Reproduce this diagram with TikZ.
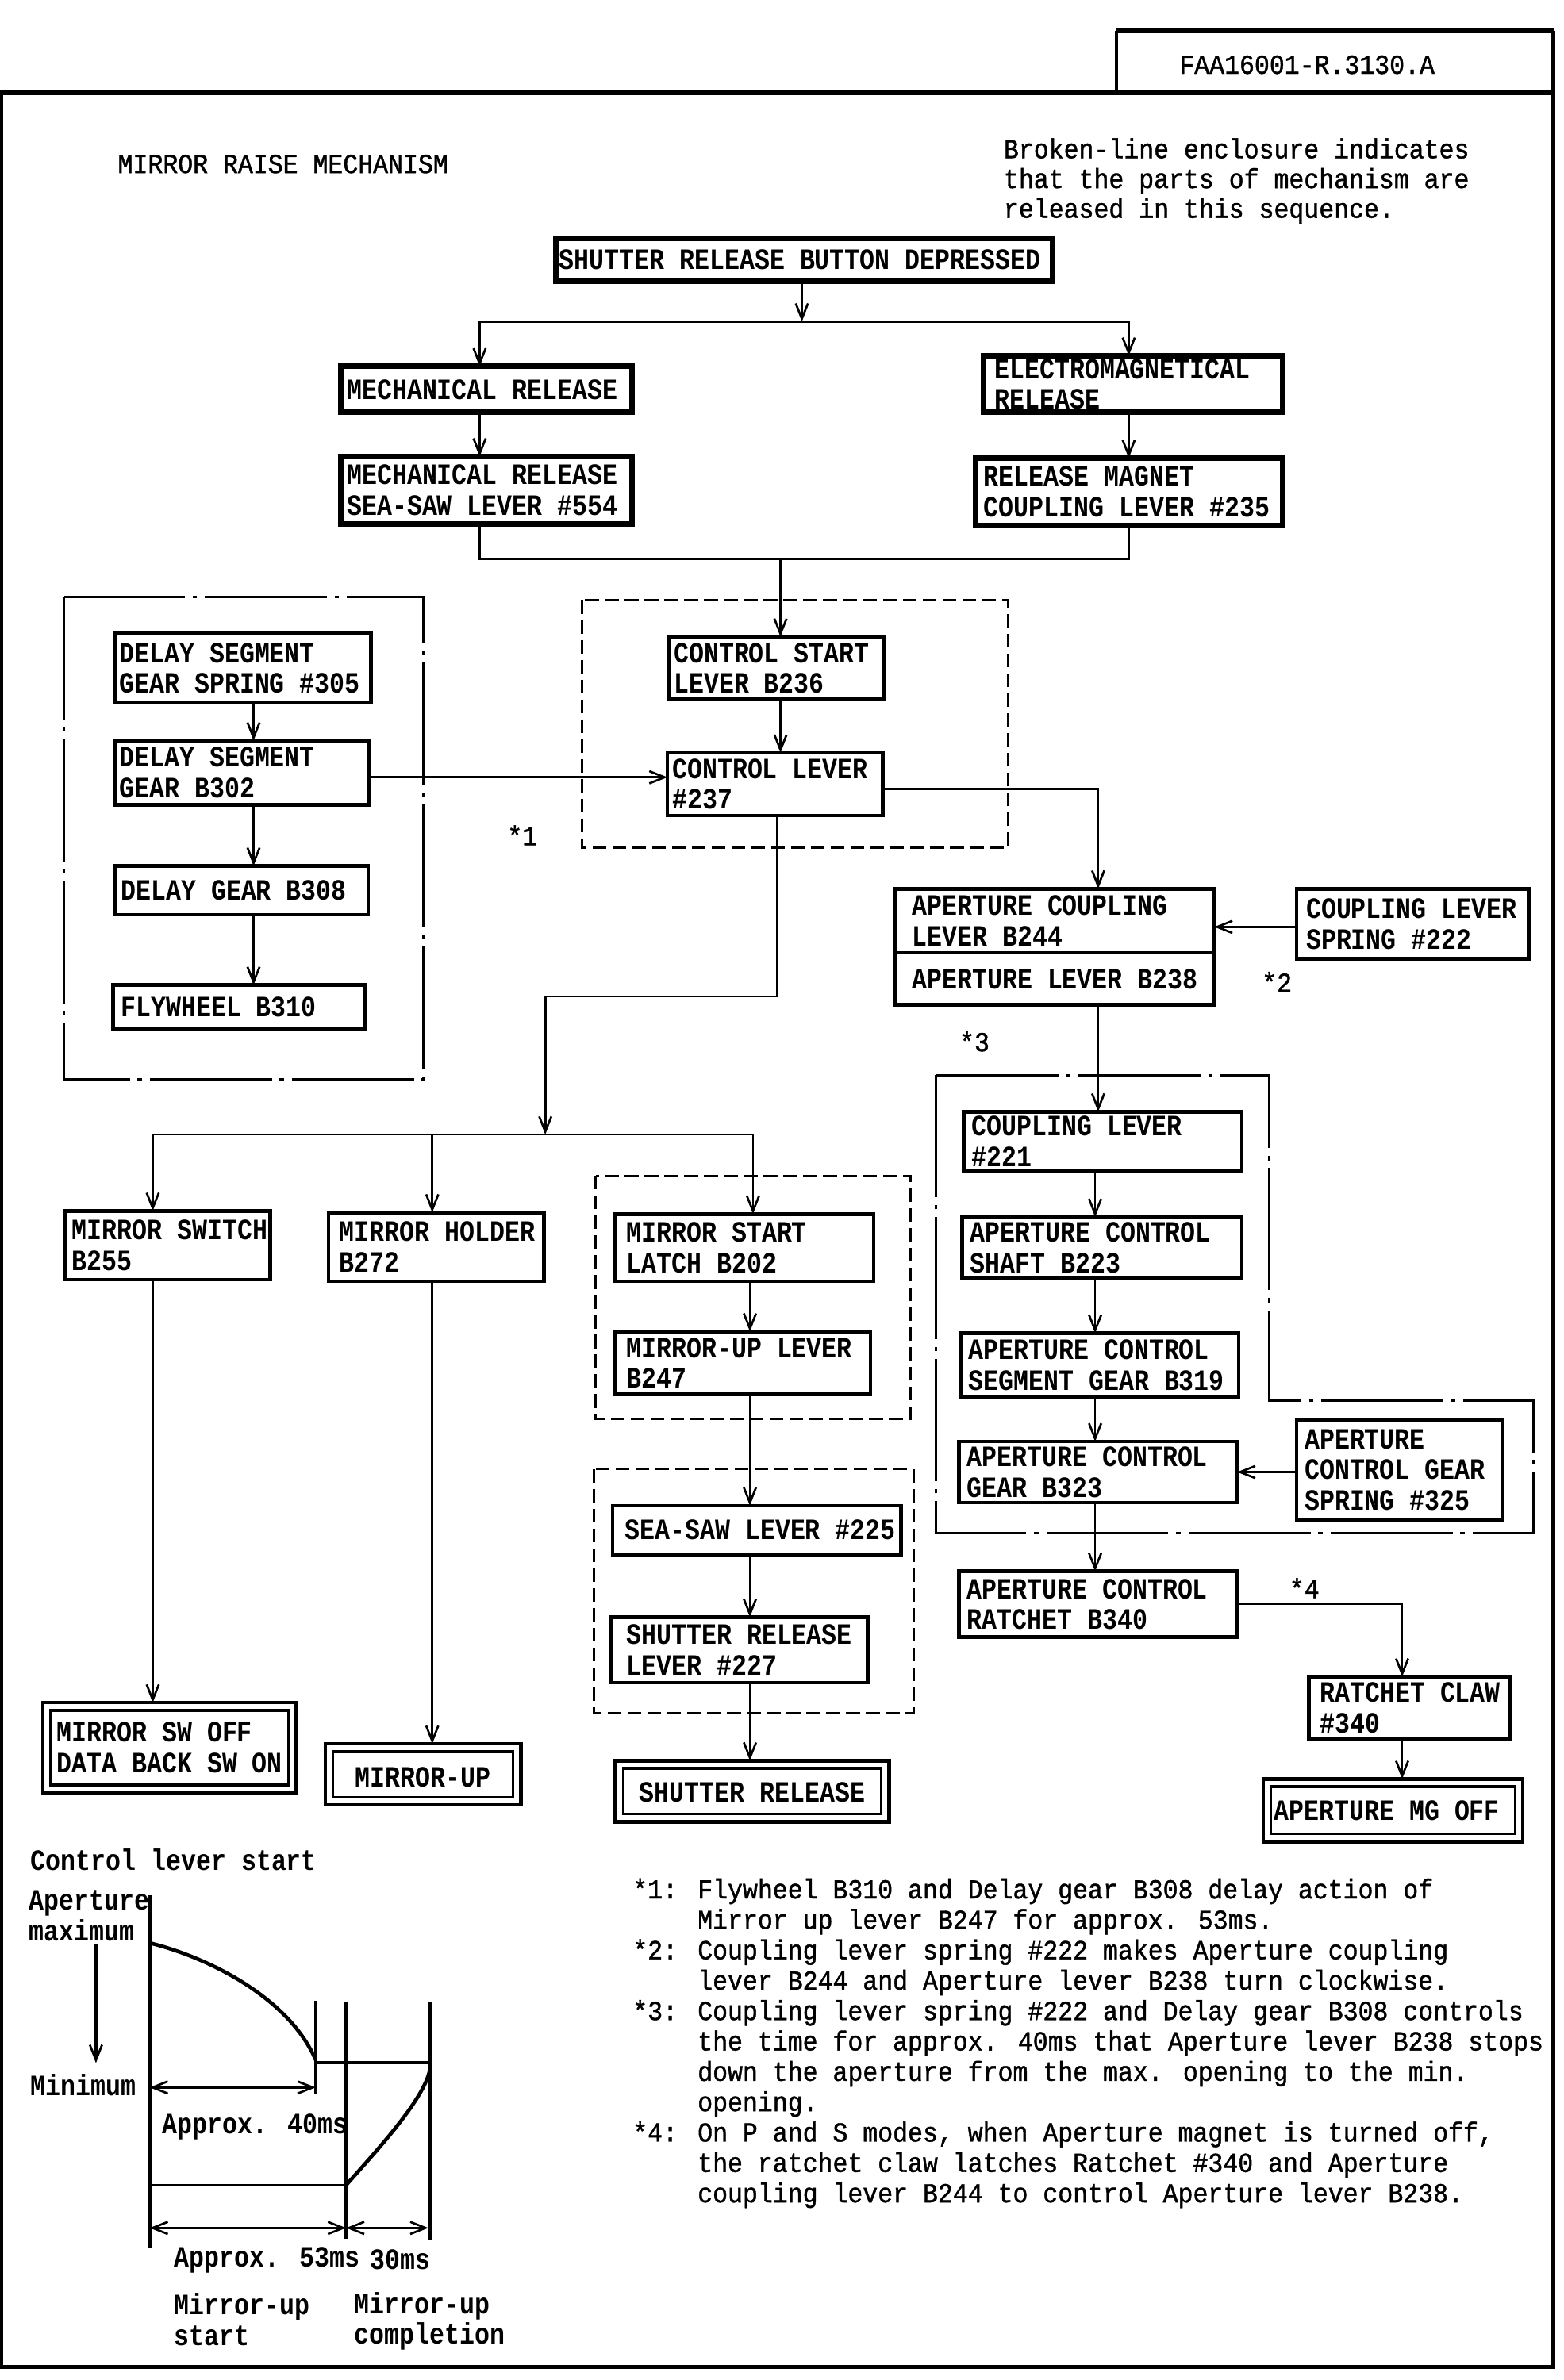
\documentclass[tikz,border=0pt]{standalone}
\usepackage{fontspec}
\setmainfont{Liberation Mono}[FakeStretch=0.85]
\newfontfamily\notefam{Liberation Mono}[FakeStretch=0.91,FakeBold=1.2]
\usetikzlibrary{arrows.meta,calc}
\newcommand\bxf{\bfseries\fontsize{19.3}{20}\selectfont}
\newcommand\ntf{\notefam\fontsize{18}{19.9}\selectfont}
\tikzset{
  conn/.style={line width=1.4pt},
  arr/.style={conn,-{Straight Barb[length=10pt,width=8pt,line width=1.4pt]}},
  darr/.style={conn,{Straight Barb[length=10pt,width=8pt,line width=1.4pt]}-{Straight Barb[length=10pt,width=8pt,line width=1.4pt]}},
  box/.style={draw,line width=2.4pt,inner sep=0pt,outer sep=0pt},
  heavy/.style={box,line width=3.6pt},
  dashbox/.style={line width=1.6pt,dash pattern=on 9pt off 4pt},
  dashdot/.style={line width=1.6pt,dash pattern=on 80pt off 5pt on 3pt off 5pt},
  lbl/.style={anchor=west,align=left,inner sep=0pt,font=\bxf},
  plain/.style={anchor=west,align=left,inner sep=0pt,font=\ntf},
  graphline/.style={line width=2pt},
}
% \bx[style]{name}{x1}{y1}{x2}{y2}
\newcommand\bx[6][box]{%
  \pgfmathsetmacro\bw{#5-#3}\pgfmathsetmacro\bh{#6-#4}%
  \node[#1,anchor=north west,minimum width=\bw pt,minimum height=\bh pt] (#2) at (#3,#4) {};}
% \bt[pad]{name}{text}
\newcommand\bt[3][4]{\node[lbl] (#2t) at ([xshift=#1pt]#2.west) {#3};}
% double box inner
\newcommand\dbl[1]{\draw[line width=1.8pt] ([shift={(5pt,-5pt)}]#1.north west) rectangle ([shift={(-5pt,5pt)}]#1.south east);}
\begin{document}
\begin{tikzpicture}[x=1pt,y=-1pt]
\useasboundingbox (0,0) rectangle (1024,1558.6);
\fill[white] (0,0) rectangle (1024,1558.6);

% frame
\draw[line width=2.5pt] (1,60.5) rectangle (1017,1550);
\draw[line width=4pt] (1,60.5) -- (1017,60.5);
\draw[line width=2.5pt] (731,60.5) -- (731,20);
\draw[line width=4pt] (731,20) -- (1017,20);
\draw[line width=2.5pt] (1017,20) -- (1017,60.5);
\node[plain] (faa) at (772,42.4) {FAA16001-R.3130.A};

\node[plain] (title) at (77,107.4) {MIRROR RAISE MECHANISM};
\node[plain,font=\notefam\fontsize{18}{19.5}\selectfont] (legend) at (657,118.5) {Broken-line enclosure indicates\\that the parts of mechanism are\\released in this sequence.};

% enclosures
\draw[dashbox] (381,393) rectangle (660,555);
\draw[dashbox] (390,770) rectangle (596,929);
\draw[dashbox] (389,962) rectangle (598,1122);
\draw[dashdot] (42,391) rectangle (277,707);
\draw[dashdot] (613,704) -- (831,704) -- (831,917) -- (1004,917) -- (1004,1004) -- (613,1004) -- cycle;

% top boxes
\bx[heavy]{srb}{364}{156}{689}{184} \bt[2]{srb}{SHUTTER RELEASE BUTTON DEPRESSED}
\bx[heavy]{mech}{223}{240}{414}{270} \bt{mech}{MECHANICAL RELEASE}
\bx[heavy]{elec}{644}{233}{840}{270} \bt[7]{elec}{ELECTROMAGNETICAL\\RELEASE}
\bx[heavy]{seesaw}{223}{299}{414}{343} \bt{seesaw}{MECHANICAL RELEASE\\SEA-SAW LEVER \#554}
\bx[heavy]{rmag}{639}{300}{840}{344} \bt[5]{rmag}{RELEASE MAGNET\\COUPLING LEVER \#235}

% control
\bx{cs}{438}{417}{579}{458} \bt[3]{cs}{CONTROL START\\LEVER B236}
\bx{cl}{437}{493}{578}{534} \bt[3]{cl}{CONTROL LEVER\\\#237}

% delay
\bx{s305}{75}{415}{243}{460} \bt[3]{s305}{DELAY SEGMENT\\GEAR SPRING \#305}
\bx{b302}{75}{485}{242}{527} \bt[3]{b302}{DELAY SEGMENT\\GEAR B302}
\bx{b308}{75}{567}{241}{599} \bt[4]{b308}{DELAY GEAR B308}
\bx{b310}{74}{645}{239}{674} \bt[5]{b310}{FLYWHEEL B310}

% aperture
\bx{ap}{586}{582}{795}{658}
\draw[line width=2pt] (ap.west |- 0,624) -- (ap.east |- 0,624);
\node[lbl] (apt1) at (597,603) {APERTURE COUPLING\\LEVER B244};
\node[lbl] (apt2) at (597,641) {APERTURE LEVER B238};
\bx{sp222}{849}{582}{1001}{628} \bt[6]{sp222}{COUPLING LEVER\\SPRING \#222}
\bx{c221}{631}{728}{813}{767} \bt[5]{c221}{COUPLING LEVER\\\#221}
\bx{b223}{630}{797}{813}{837} \bt[5]{b223}{APERTURE CONTROL\\SHAFT B223}
\bx{b319}{629}{873}{811}{915} \bt[5]{b319}{APERTURE CONTROL\\SEGMENT GEAR B319}
\bx{b323}{628}{944}{810}{984} \bt[5]{b323}{APERTURE CONTROL\\GEAR B323}
\bx{sp325}{849}{930}{984}{995} \bt[5]{sp325}{APERTURE\\CONTROL GEAR\\SPRING \#325}
\bx{b340}{628}{1029}{810}{1072} \bt[5]{b340}{APERTURE CONTROL\\RATCHET B340}
\bx{claw}{857}{1098}{989}{1139} \bt[7]{claw}{RATCHET CLAW\\\#340}
\bx{mg}{827}{1165}{997}{1206} \dbl{mg} \bt[7]{mg}{APERTURE MG OFF}

% mirror
\bx{msw}{43}{793}{177}{838} \bt[4]{msw}{MIRROR SWITCH\\B255}
\bx{mh}{215}{794}{356}{839} \bt[7]{mh}{MIRROR HOLDER\\B272}
\bx{msl}{403}{795}{572}{839} \bt[7]{msl}{MIRROR START\\LATCH B202}
\bx{mul}{403}{872}{570}{913} \bt[7]{mul}{MIRROR-UP LEVER\\B247}
\bx{ssl}{401}{986}{590}{1018} \bt[8]{ssl}{SEA-SAW LEVER \#225}
\bx{srl}{400}{1059}{568}{1102} \bt[10]{srl}{SHUTTER RELEASE\\LEVER \#227}
\bx{sr}{403}{1153}{582}{1193} \dbl{sr} \node[lbl,anchor=center] (srt) at ([yshift=-1pt]sr.center) {SHUTTER RELEASE};
\bx{mup}{213}{1142}{341}{1182} \dbl{mup} \node[lbl,anchor=center] (mupt) at ([yshift=-2pt]mup.center) {MIRROR-UP};
\bx{msoff}{28}{1115}{194}{1174} \dbl{msoff} \bt[9]{msoff}{MIRROR SW OFF\\DATA BACK SW ON}

% star labels
\node[plain,anchor=center] (st1) at (342,547) {*1};
\node[plain,anchor=center] (st2) at (836,643) {*2};
\node[plain,anchor=center] (st3) at (638,682) {*3};
\node[plain,anchor=center] (st4) at (854,1040) {*4};

% column coordinates
\coordinate (xa) at (166,0);
\coordinate (xm) at (314,0);
\coordinate (xe) at (739,0);
\coordinate (xs1) at (100,0);
\coordinate (xs2) at (283,0);
\coordinate (xs3) at (493,0);
\coordinate (xs4) at (491,0);
\coordinate (xap) at (719,0);
\coordinate (xr) at (717,0);
\coordinate (xc) at (918,0);

% connectors top
\coordinate (j1) at (525,210.6);
\draw[arr] (srb.south -| j1) -- (j1);
\draw[conn] (j1 -| xm) -- (j1 -| xe);
\draw[arr] (j1 -| xm) -- (mech.north -| xm);
\draw[arr] (j1 -| xe) -- (elec.north -| xe);
\draw[arr] (mech.south -| xm) -- (seesaw.north -| xm);
\draw[arr] (elec.south -| xe) -- (rmag.north -| xe);
\coordinate (j2) at (511,366);
\draw[conn] (seesaw.south -| xm) |- (j2 -| xe) -- (rmag.south -| xe);
\draw[arr] (j2) -- (cs.north -| j2);
\draw[arr] (cs.south -| j2) -- (cl.north -| j2);

% delay chain
\draw[arr] (s305.south -| xa) -- (b302.north -| xa);
\draw[arr] (b302.south -| xa) -- (b308.north -| xa);
\draw[arr] (b308.south -| xa) -- (b310.north -| xa);
\draw[arr] ([yshift=-3pt]b302.east) -- ([yshift=-3pt]b302.east -| cl.west);

% aperture chain
\draw[arr] ([yshift=-3pt]cl.east) -| (ap.north -| xap);
\draw[arr] ([yshift=-2pt]sp222.west) -- ([yshift=-2pt]sp222.west -| ap.east);
\draw[arr] (ap.south -| xap) -- (c221.north -| xap);
\draw[arr] (c221.south -| xr) -- (b223.north -| xr);
\draw[arr] (b223.south -| xr) -- (b319.north -| xr);
\draw[arr] (b319.south -| xr) -- (b323.north -| xr);
\draw[arr] (b323.south -| xr) -- (b340.north -| xr);
\draw[arr] ([yshift=-1.5pt]sp325.west) -- ([yshift=-1.5pt]sp325.west -| b323.east);
\draw[arr] (b340.east) -| (claw.north -| xc);
\draw[arr] (claw.south -| xc) -- (mg.north -| xc);

% mirror chain
\coordinate (jm) at (357,743);
\draw[arr] (cl.south -| 509,0) -- (509,652.5) -| (jm);
\draw[conn] (jm -| xs1) -- (jm -| xs3);
\draw[arr] (jm -| xs1) -- (msw.north -| xs1);
\draw[arr] (jm -| xs2) -- (mh.north -| xs2);
\draw[arr] (jm -| xs3) -- (msl.north -| xs3);
\draw[arr] (msw.south -| xs1) -- (msoff.north -| xs1);
\draw[arr] (mh.south -| xs2) -- (mup.north -| xs2);
\draw[arr] (msl.south -| xs4) -- (mul.north -| xs4);
\draw[arr] (mul.south -| xs4) -- (ssl.north -| xs4);
\draw[arr] (ssl.south -| xs4) -- (srl.north -| xs4);
\draw[arr] (srl.south -| xs4) -- (sr.north -| xs4);

% notes
\node[plain,anchor=north west] (notes) at (414,1230) {*1: Flywheel B310 and Delay gear B308 delay action of\\
\hphantom{*1: }Mirror up lever B247 for approx. 53ms.\\
*2: Coupling lever spring \#222 makes Aperture coupling\\
\hphantom{*2: }lever B244 and Aperture lever B238 turn clockwise.\\
*3: Coupling lever spring \#222 and Delay gear B308 controls\\
\hphantom{*3: }the time for approx. 40ms that Aperture lever B238 stops\\
\hphantom{*3: }down the aperture from the max. opening to the min.\\
\hphantom{*3: }opening.\\
*4: On P and S modes, when Aperture magnet is turned off,\\
\hphantom{*4: }the ratchet claw latches Ratchet \#340 and Aperture\\
\hphantom{*4: }coupling lever B244 to control Aperture lever B238.};

% graph
\node[lbl] (gl1) at (20,1218) {Control lever start};
\node[lbl] (gl2) at (19,1254.5) {Aperture\\maximum};
\node[lbl] (gl3) at (20,1365.6) {Minimum};
\node[lbl] (gl4) at (106,1393) {Approx. 40ms};
\node[lbl] (gl5) at (114,1480) {Approx. 53ms};
\node[lbl] (gl6) at (242,1480) {30ms};
\node[lbl] (gl7) at (114,1519) {Mirror-up\\start};
\node[lbl] (gl8) at (232,1520) {Mirror-up\\completion};
\draw[graphline] (98,1241) -- (98,1472);
\draw[line width=2.4pt] (98.6,1272.5) .. controls (140,1283) and (190,1310) .. (206.7,1349);
\draw[graphline] (206.7,1310) -- (206.7,1371);
\draw[graphline] (206.7,1350.6) -- (281.5,1350.6);
\draw[graphline] (226.6,1311) -- (226.6,1466);
\draw[graphline] (281.5,1311) -- (281.5,1467);
\draw[line width=2.4pt] (226.6,1431) .. controls (245,1410) and (278,1375) .. (281.5,1355);
\draw[graphline] (98,1431) -- (226.6,1431);
\draw[darr] (98,1367) -- (206.7,1367);
\draw[darr] (98,1459) -- (226.6,1459);
\draw[darr] (226.6,1459) -- (280.5,1459);
\draw[arr,line width=1.8pt] (62.8,1273) -- (62.8,1351);
\end{tikzpicture}
\end{document}
